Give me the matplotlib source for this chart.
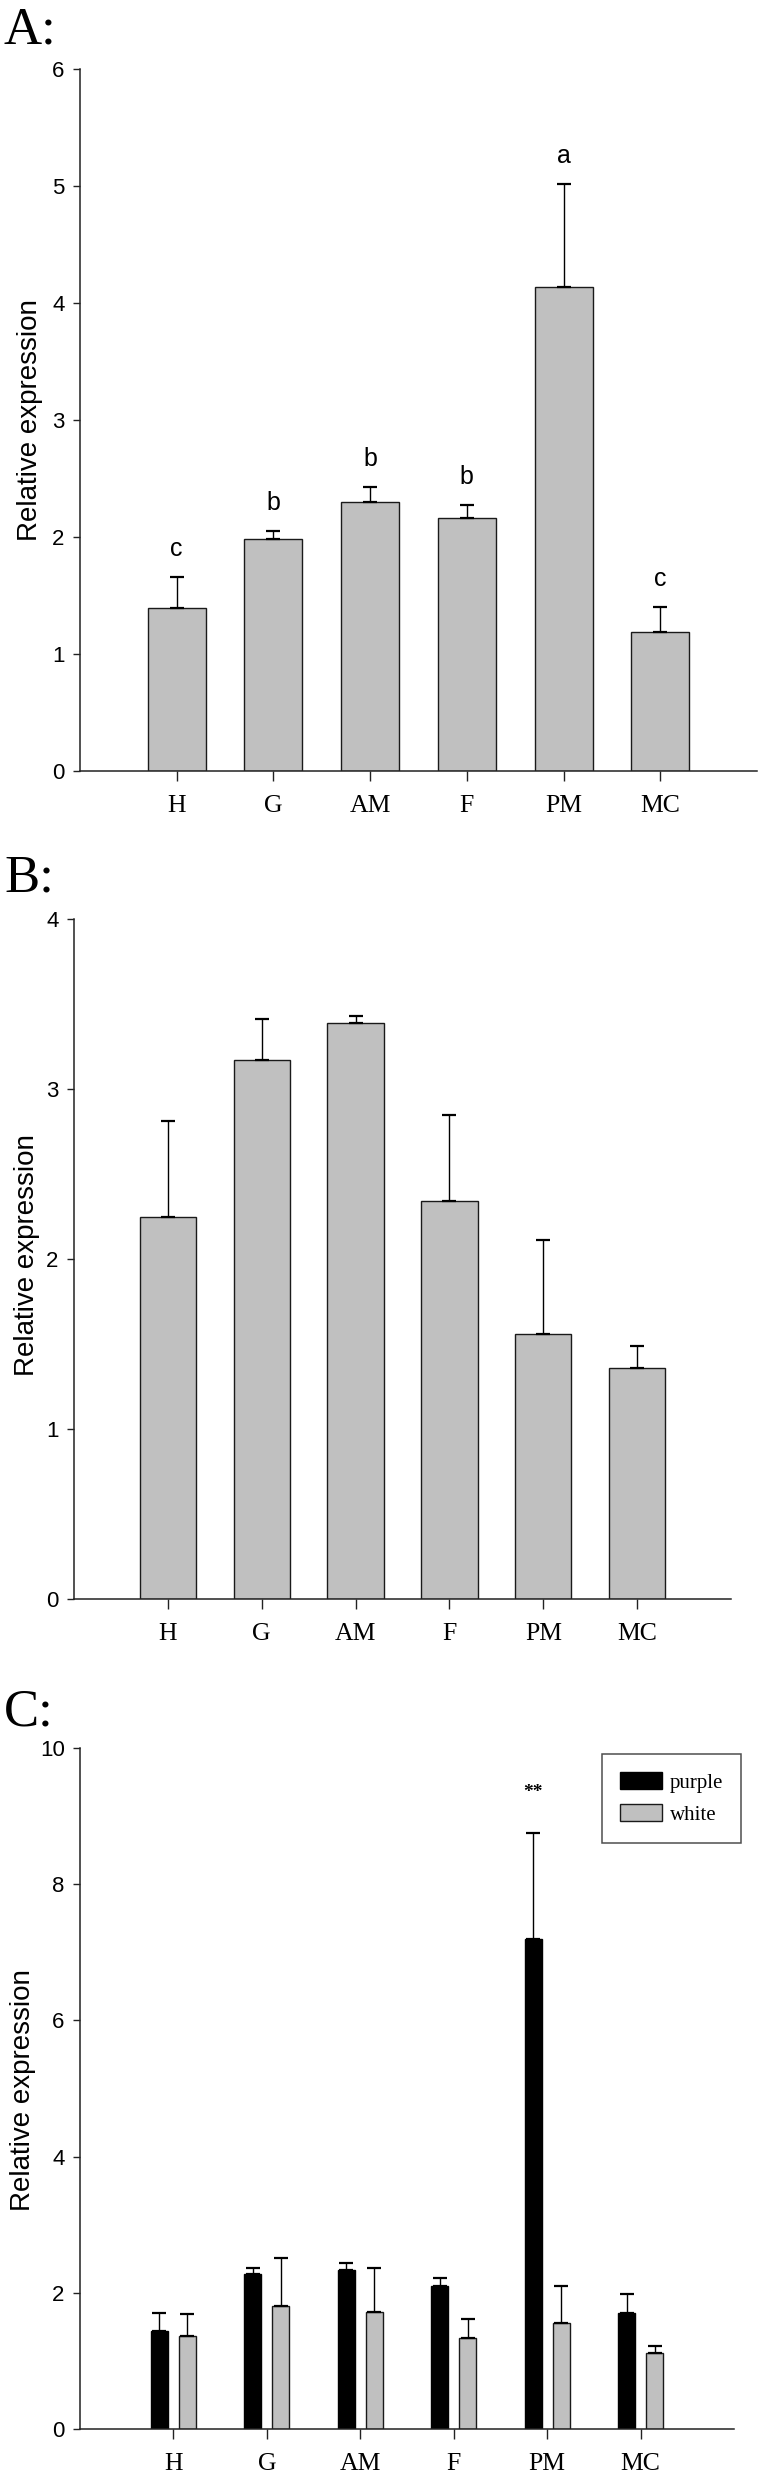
import numpy as np
import matplotlib
matplotlib.use("Agg")
import matplotlib.pyplot as plt
from matplotlib import font_manager

# ---------------- data ----------------
tissues = ["H", "G", "AM", "F", "PM", "MC"]

a_values = [1.39, 1.98, 2.30, 2.16, 4.14, 1.19]
a_errors = [0.27, 0.075, 0.13, 0.11, 0.88, 0.21]
a_letters = ["c", "b", "b", "b", "a", "c"]

b_values = [2.25, 3.17, 3.39, 2.34, 1.56, 1.36]
b_errors = [0.56, 0.24, 0.04, 0.51, 0.55, 0.13]

c_purple = [1.44, 2.28, 2.33, 2.10, 7.20, 1.70]
c_purple_err = [0.27, 0.09, 0.11, 0.12, 1.55, 0.28]
c_white = [1.36, 1.80, 1.72, 1.33, 1.56, 1.11]
c_white_err = [0.33, 0.71, 0.645, 0.29, 0.535, 0.115]
c_series = ["purple", "white"]
c_mark = "**"
c_mark_y = 9.35

# ---------------- fonts ----------------
names = {f.name for f in font_manager.fontManager.ttflist}
if "Liberation Sans Narrow" in names:
    NARROW = ["Liberation Sans Narrow", "DejaVu Sans"]
    tick_fs = 17
else:
    NARROW = ["Liberation Sans", "DejaVu Sans"]
    tick_fs = 16
SANS = ["Liberation Sans", "DejaVu Sans"]
SERIF = ["Liberation Serif", "DejaVu Serif"]
plt.rcParams["font.family"] = SANS

W, H = 759, 2480
fig = plt.figure(figsize=(W / 100, H / 100), dpi=100)


def rect(l, r, t, b):
    return [l / W, 1 - b / H, (r - l) / W, (b - t) / H]


GRAY = "#c0c0c0"
EDGE = "#1a1a1a"


def style(ax, ymax, ystep):
    for s in ("top", "right"):
        ax.spines[s].set_visible(False)
    for s in ("left", "bottom"):
        ax.spines[s].set_linewidth(1.1)
        ax.spines[s].set_color("#222222")
    ax.set_xlim(-1, 6)
    ax.set_ylim(0, ymax)
    ax.set_yticks(np.arange(0, ymax + 0.001, ystep))
    ax.set_xticks(np.arange(len(tissues)))
    ax.set_xticklabels(tissues, fontfamily=SERIF, fontsize=18.5)
    for lab in ax.get_yticklabels():
        lab.set_fontfamily(NARROW)
        lab.set_fontsize(tick_fs)
    ax.tick_params(axis="y", direction="out", length=5, width=1.0, pad=6, colors="#222222", labelcolor="black")
    ax.tick_params(axis="x", direction="out", length=7.5, width=1.0, pad=10, colors="#222222", labelcolor="black")


x = np.arange(len(tissues))

# ---------------- panel A ----------------
axA = fig.add_axes(rect(80, 757, 69, 771))
axA.bar(x, a_values, width=0.6, color=GRAY, edgecolor=EDGE, linewidth=1.0, zorder=2)
axA.errorbar(x, a_values, yerr=[np.zeros(len(x)), a_errors], fmt="none", ecolor="black",
             elinewidth=1.0, capsize=5, capthick=1.6, zorder=3)
style(axA, 6, 1)
for xi, v, e, t in zip(x, a_values, a_errors, a_letters):
    axA.text(xi, v + e + 0.18, t, ha="center", va="baseline", fontsize=18, fontfamily=NARROW)
fig.text(30 / W, 1 - 420 / H, "Relative expression", rotation=90, ha="center", va="center",
         fontsize=20, fontfamily=SANS)
fig.text(4 / W, 1 - 6 / H, "A:", fontsize=38, fontfamily=SERIF, ha="left", va="top")

# ---------------- panel B ----------------
axB = fig.add_axes(rect(74, 731, 919, 1599))
axB.bar(x, b_values, width=0.6, color=GRAY, edgecolor=EDGE, linewidth=1.0, zorder=2)
axB.errorbar(x, b_values, yerr=[np.zeros(len(x)), b_errors], fmt="none", ecolor="black",
             elinewidth=1.0, capsize=5, capthick=1.6, zorder=3)
style(axB, 4, 1)
fig.text(27 / W, 1 - 1255 / H, "Relative expression", rotation=90, ha="center", va="center",
         fontsize=20, fontfamily=SANS)
fig.text(4 / W, 1 - 854 / H, "B:", fontsize=38, fontfamily=SERIF, ha="left", va="top")

# ---------------- panel C ----------------
axC = fig.add_axes(rect(80, 734, 1748, 2429))
off, bw = 0.15, 0.18
axC.bar(x - off, c_purple, width=bw, color="black", edgecolor="black", linewidth=1.0,
        zorder=2, label=c_series[0])
axC.bar(x + off, c_white, width=bw, color=GRAY, edgecolor=EDGE, linewidth=1.0,
        zorder=2, label=c_series[1])
axC.errorbar(x - off, c_purple, yerr=[np.zeros(len(x)), c_purple_err], fmt="none", ecolor="black",
             elinewidth=1.0, capsize=5, capthick=1.6, zorder=3)
axC.errorbar(x + off, c_white, yerr=[np.zeros(len(x)), c_white_err], fmt="none", ecolor="black",
             elinewidth=1.0, capsize=5, capthick=1.6, zorder=3)
style(axC, 10, 2)
pm = tissues.index("PM")
axC.text(pm - off, c_mark_y, c_mark, ha="center", va="center", fontsize=14,
         fontfamily=SERIF, fontweight="bold")
leg = axC.legend(loc="upper right", bbox_to_anchor=(741 / W, 1 - 1754 / H),
                 bbox_transform=fig.transFigure, borderaxespad=0, fancybox=False,
                 frameon=True, prop={"family": SERIF, "size": 15},
                 handlelength=2.0, handleheight=0.9, handletextpad=0.4,
                 labelspacing=0.55, borderpad=0.85)
leg.get_frame().set_edgecolor("#222222")
leg.get_frame().set_linewidth(1.1)
fig.text(23 / W, 1 - 2090 / H, "Relative expression", rotation=90, ha="center", va="center",
         fontsize=20, fontfamily=SANS)
fig.text(4 / W, 1 - 1688 / H, "C:", fontsize=38, fontfamily=SERIF, ha="left", va="top")

fig.savefig("out.png", dpi=100)
